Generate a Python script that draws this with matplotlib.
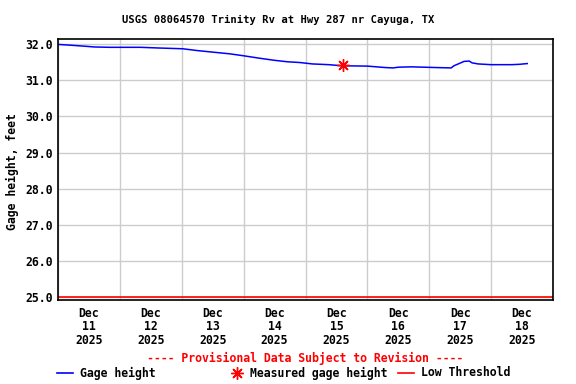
import numpy as np
import matplotlib
matplotlib.use('Agg')
import matplotlib.pyplot as plt
import matplotlib.dates as mdates
from matplotlib.lines import Line2D
from datetime import datetime, timedelta

start = datetime(2025, 12, 11)

# hours after Dec 11 00:00, gage height (ft)
hours = [0, 4.6, 10.5, 14, 20, 32, 39.5, 48.4, 54, 61, 66.6, 71.6, 78, 84, 89,
         93.7, 98.7, 105, 110, 120, 127, 130, 132, 137, 146.7, 152.5, 153.6,
         157.5, 159.5, 160.6, 163, 168, 176, 179, 182]
gage = [31.99, 31.97, 31.94, 31.92, 31.91, 31.91, 31.89, 31.87, 31.82, 31.77,
        31.73, 31.68, 31.61, 31.55, 31.51, 31.49, 31.45, 31.43, 31.40, 31.39,
        31.35, 31.34, 31.36, 31.37, 31.35, 31.34, 31.40, 31.52, 31.53, 31.48,
        31.45, 31.43, 31.43, 31.44, 31.46]

meas_hours = [110.4]
meas_gage = [31.41]

low_threshold = 25.0

day_labels = ['Dec\n11\n2025', 'Dec\n12\n2025', 'Dec\n13\n2025', 'Dec\n14\n2025',
              'Dec\n15\n2025', 'Dec\n16\n2025', 'Dec\n17\n2025', 'Dec\n18\n2025']
y_ticks = [25.0, 26.0, 27.0, 28.0, 29.0, 30.0, 31.0, 32.0]

mono = 'DejaVu Sans Mono'
t = [start + timedelta(hours=h) for h in hours]
tm = [start + timedelta(hours=h) for h in meas_hours]

fig = plt.figure(figsize=(5.76, 3.84), dpi=100)
ax = fig.add_axes([58/576, 1 - 300/384, 495/576, 261/384])

ax.plot(t, gage, color='blue', lw=1.1)
ax.plot(tm, meas_gage, ls='none', marker=(8, 2, 0), color='red', ms=9, mew=1)
ax.axhline(low_threshold, color='red', lw=1.2)

ax.set_xlim(start, start + timedelta(days=8))
ax.set_ylim(24.92, 32.14)

ax.xaxis.set_major_locator(mdates.DayLocator())
ax.xaxis.set_major_formatter(plt.NullFormatter())
noon = [start + timedelta(days=i, hours=12) for i in range(8)]
ax.xaxis.set_minor_locator(matplotlib.ticker.FixedLocator(mdates.date2num(noon)))
ax.set_xticklabels(day_labels, minor=True, fontfamily=mono, fontweight='bold', fontsize=8.3,
                   linespacing=1.05)
ax.tick_params(axis='x', which='both', length=0, pad=5)

ax.set_yticks(y_ticks)
ax.set_yticklabels(['%.1f' % v for v in y_ticks], fontfamily=mono, fontweight='bold', fontsize=8.3)
ax.tick_params(axis='y', length=0, pad=4)

ax.grid(True, which='major', color='#cccccc', lw=1)
for s in ax.spines.values():
    s.set_linewidth(1.2)

fig.text(278/576, 1 - 20/384, 'USGS 08064570 Trinity Rv at Hwy 287 nr Cayuga, TX',
         ha='center', va='center', fontfamily=mono, fontweight='bold', fontsize=7.6)
fig.text(12/576, 1 - 172/384, 'Gage height, feet', rotation=90, ha='center', va='center',
         fontfamily=mono, fontweight='bold', fontsize=8.3)
fig.text(305/576, 1 - 358/384, '---- Provisional Data Subject to Revision ----',
         ha='center', va='center', color='red', fontfamily=mono, fontweight='bold', fontsize=8.3)

ly = 1 - 373/384
fig.add_artist(Line2D([57/576, 73/576], [ly, ly], color='blue', lw=1.2))
fig.text(80/576, ly, 'Gage height', va='center', fontfamily=mono, fontweight='bold', fontsize=8.3)
fig.add_artist(Line2D([237/576], [ly], marker=(8, 2, 0), color='red', ms=9, mew=1))
fig.text(250/576, ly, 'Measured gage height', va='center', fontfamily=mono, fontweight='bold', fontsize=8.3)
fig.add_artist(Line2D([398/576, 414/576], [ly, ly], color='red', lw=1.2))
fig.text(421/576, ly, 'Low Threshold', va='center', fontfamily=mono, fontweight='bold', fontsize=8.3)

fig.savefig('out.png', dpi=100)
